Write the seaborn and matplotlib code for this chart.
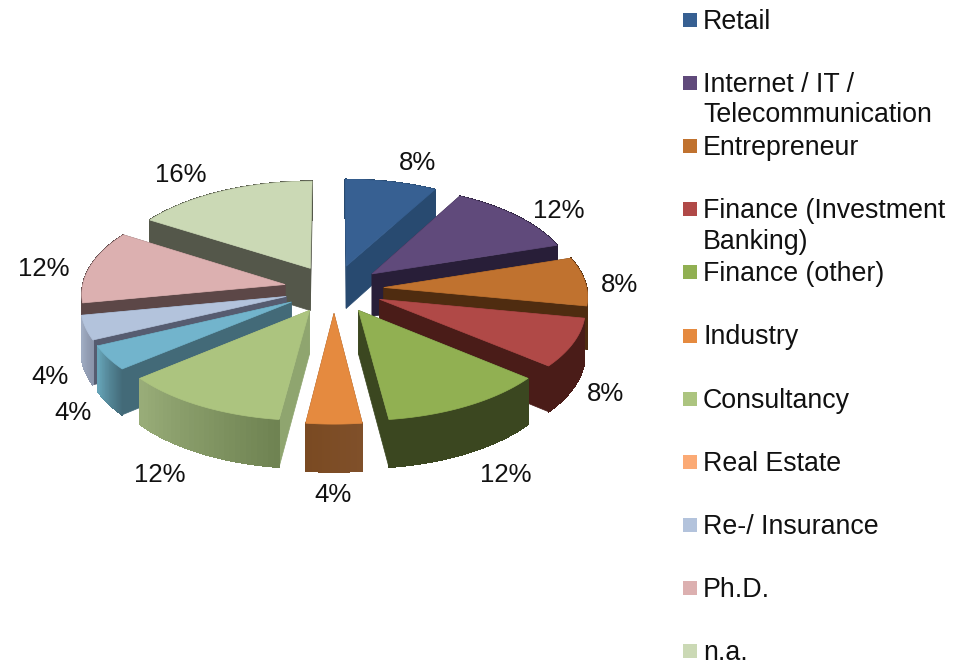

import numpy as np
import matplotlib
matplotlib.use('Agg')
import matplotlib.pyplot as plt
import seaborn as sns

sns.set_theme(style='white')
plt.rcParams['font.family'] = ['Liberation Sans', 'DejaVu Sans']

# data
categories = ['Retail', 'Internet / IT /\nTelecommunication', 'Entrepreneur',
              'Finance (Investment\nBanking)', 'Finance (other)', 'Industry',
              'Consultancy', 'Real Estate', 'Re-/ Insurance', 'Ph.D.', 'n.a.']
shares = [8, 12, 8, 8, 12, 4, 12, 4, 4, 12, 16]

# colours
legend_colors = ['#376092', '#604a7b', '#c0722f', '#b04947', '#91b052', '#e58a3f',
                 '#acc47f', '#fbaa75', '#b3c3dc', '#dcb0b0', '#cbd9b5']
top_colors = ['#376092', '#604a7b', '#c0722f', '#b04947', '#91b052', '#e58a3f',
              '#acc47f', '#72b4cc', '#b3c3dc', '#dcb0b0', '#cbd9b5']
radial_colors = ['#284a70', '#281e38', '#4f2c10', '#4a1c18', '#3b4720', '#80502a',
                 '#8fa56f', '#436a78', '#565c70', '#5c4747', '#54574a']
arc_start = ['#284a70', '#281e38', '#4f2c10', '#4a1c18', '#3b4720', '#80502a',
             '#6f8352', '#436a78', '#8a94aa', '#5c4747', '#54574a']
arc_end = ['#284a70', '#281e38', '#4f2c10', '#4a1c18', '#3b4720', '#7a4a22',
           '#98ac78', '#66a4b8', '#a0acc2', '#5c4747', '#54574a']

# layout, in pixels of the 967x667 picture
cx, cy = 334, 289
radius = 203
explode = 50
tilt = 0.48
persp = 0.0004
depth = 43
label_xy = [(418, 163), (559, 211), (619, 285), (605, 394), (506, 475), (333, 495),
            (160, 475), (73, 413), (50, 377), (44, 269), (181, 175)]


def project(X, Y, drop=0):
    s = 1 / (1 + persp * Y)
    return cx + X * s, cy - tilt * Y * s + drop * s


fig = plt.figure(figsize=(9.67, 6.67), dpi=100)
ax = fig.add_axes([0, 0, 1, 1])
ax.set_xlim(0, 967)
ax.set_ylim(667, 0)
ax.axis('off')

edges = np.radians(np.cumsum([0] + shares) * 3.6)
mids = (edges[:-1] + edges[1:]) / 2

# far slices first so the near ones cover them
for i in np.argsort(-np.cos(mids)):
    t = np.linspace(edges[i], edges[i + 1], 30)
    ox, oy = explode * np.sin(mids[i]), explode * np.cos(mids[i])
    X = ox + radius * np.sin(t)
    Y = oy + radius * np.cos(t)

    # side faces from the apex to the rim
    for k in [0, -1]:
        x1, y1 = project(ox, oy)
        x2, y2 = project(X[k], Y[k])
        x3, y3 = project(X[k], Y[k], depth)
        x4, y4 = project(ox, oy, depth)
        ax.fill([x1, x2, x3, x4], [y1, y2, y3, y4], color=radial_colors[i], lw=0.5)

    # rim
    shades = sns.blend_palette([arc_start[i], arc_end[i]], len(t) - 1)
    for j in range(len(t) - 1):
        xa, ya = project(X[j:j + 2], Y[j:j + 2])
        xb, yb = project(X[j:j + 2], Y[j:j + 2], depth)
        ax.fill(np.r_[xa, xb[::-1]], np.r_[ya, yb[::-1]], color=shades[j], lw=0.5,
                antialiased=False)

    # top face
    xt, yt = project(np.r_[ox, X], np.r_[oy, Y])
    ax.fill(xt, yt, color=top_colors[i], lw=0.5)

for v, (lx, ly) in zip(shares, label_xy):
    ax.text(lx, ly, f'{v}%', fontsize=18.5, color='#111111', ha='center', va='center')

# legend
for i, name in enumerate(categories):
    y = 20 + 63.1 * i
    ax.add_patch(plt.Rectangle((683, y - 7), 14, 14, color=legend_colors[i], lw=0))
    ax.text(703, y - 11, name, fontsize=19.3, color='#111111', ha='left', va='top',
            linespacing=1.22)

fig.savefig('out.png', dpi=100)
